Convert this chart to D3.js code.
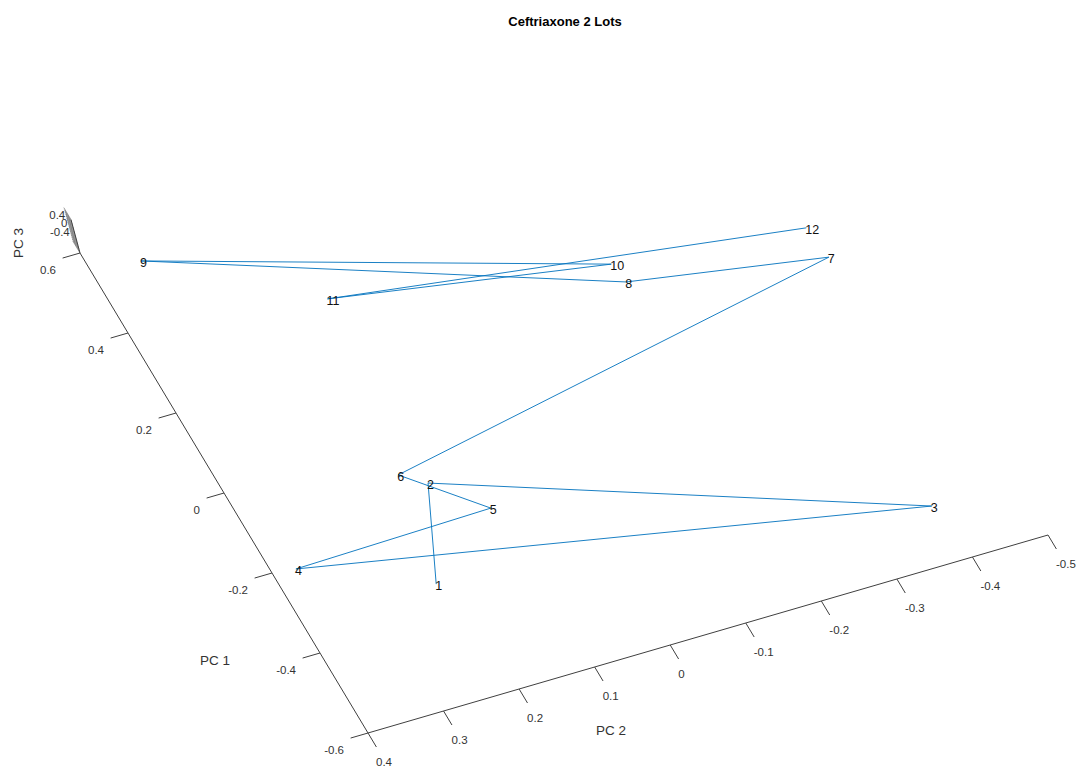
<!DOCTYPE html>
<html>
<head>
<meta charset="utf-8">
<script src="https://cdn.jsdelivr.net/npm/d3@7"></script>
<style>
  body { margin: 0; background: #fff; }
  svg { font-family: "Liberation Sans", Arial, sans-serif; }
</style>
</head>
<body>
<svg id="chart" width="1081" height="768"></svg>
<script>
// sample order and principal component scores
const labels = ['1', '2', '3', '4', '5', '6', '7', '8', '9', '10', '11', '12'];
const pc1 = [-0.347, -0.146, -0.519, -0.235, -0.243, -0.103, 0.072, 0.152, 0.519, 0.204, 0.325, 0.146];
const pc2 = [0.226, 0.170, -0.380, 0.375, 0.117, 0.197, -0.432, -0.188, 0.341, -0.184, 0.156, -0.426];
const pc3 = [-0.35, 0.05, 0.30, -0.20, 0.15, -0.10, 0.35, 0.20, -0.25, 0.10, -0.30, 0.40];

const pc1Ticks = [-0.6, -0.4, -0.2, 0, 0.2, 0.4, 0.6];
const pc2Ticks = [0.4, 0.3, 0.2, 0.1, 0, -0.1, -0.2, -0.3, -0.4, -0.5];
const pc3Ticks = [-0.4, 0, 0.4];

const svg = d3.select('#chart');
const axisColor = '#404040';
const lineColor = '#0072bd';

// oblique projection: each component adds its own screen offset
const origin = { x: 368, y: 733 };
const x1 = d3.scaleLinear().domain([-0.6, 0.6]).range([0, -288]);
const y1 = d3.scaleLinear().domain([-0.6, 0.6]).range([0, -480]);
const x2 = d3.scaleLinear().domain([0.4, -0.5]).range([0, 680]);
const y2 = d3.scaleLinear().domain([0.4, -0.5]).range([0, -198]);
const x3 = d3.scaleLinear().domain([-0.8, 0.8]).range([0, -9]);
const y3 = d3.scaleLinear().domain([-0.8, 0.8]).range([0, -33.4]);

function proj(a, b, c) {
    return [origin.x + x1(a) + x2(b) + x3(c), origin.y + y1(a) + y2(b) + y3(c)];
}

const fmt = d => d === 0 ? '0' : String(+d.toFixed(1));

// title
svg.append('text')
    .attr('x', 565).attr('y', 26)
    .attr('text-anchor', 'middle')
    .style('font-size', '13px')
    .style('font-weight', 'bold')
    .attr('fill', '#000')
    .text('Ceftriaxone 2 Lots');

const axes = svg.append('g').attr('stroke', axisColor).attr('fill', 'none');

// PC 1 axis (at PC2 = 0.4, floor)
axes.append('line')
    .attr('x1', proj(-0.6, 0.4, -0.8)[0]).attr('y1', proj(-0.6, 0.4, -0.8)[1])
    .attr('x2', proj(0.6, 0.4, -0.8)[0]).attr('y2', proj(0.6, 0.4, -0.8)[1]);
axes.selectAll('line.t1')
    .data(pc1Ticks)
    .enter().append('line')
    .attr('class', 't1')
    .attr('x1', d => proj(d, 0.4, -0.8)[0]).attr('y1', d => proj(d, 0.4, -0.8)[1])
    .attr('x2', d => proj(d, 0.423, -0.8)[0]).attr('y2', d => proj(d, 0.423, -0.8)[1]);
svg.selectAll('text.l1')
    .data(pc1Ticks)
    .enter().append('text')
    .attr('class', 'l1')
    .attr('x', d => proj(d, 0.4, -0.8)[0] - 24)
    .attr('y', d => proj(d, 0.4, -0.8)[1] + 21)
    .attr('text-anchor', 'end')
    .style('font-size', '11.5px')
    .attr('fill', '#333')
    .text(fmt);

// PC 2 axis (at PC1 = -0.6, floor)
axes.append('line')
    .attr('x1', proj(-0.6, 0.4, -0.8)[0]).attr('y1', proj(-0.6, 0.4, -0.8)[1])
    .attr('x2', proj(-0.6, -0.5, -0.8)[0]).attr('y2', proj(-0.6, -0.5, -0.8)[1]);
axes.selectAll('line.t2')
    .data(pc2Ticks)
    .enter().append('line')
    .attr('class', 't2')
    .attr('x1', d => proj(-0.6, d, -0.8)[0]).attr('y1', d => proj(-0.6, d, -0.8)[1])
    .attr('x2', d => proj(-0.635, d, -0.8)[0]).attr('y2', d => proj(-0.635, d, -0.8)[1]);
svg.selectAll('text.l2')
    .data(pc2Ticks)
    .enter().append('text')
    .attr('class', 'l2')
    .attr('x', d => proj(-0.6, d, -0.8)[0] + 8)
    .attr('y', d => proj(-0.6, d, -0.8)[1] + 33)
    .attr('text-anchor', 'start')
    .style('font-size', '11.5px')
    .attr('fill', '#333')
    .text(fmt);

// PC 3 axis, seen almost end-on
axes.append('line')
    .attr('x1', proj(0.6, 0.4, -0.8)[0]).attr('y1', proj(0.6, 0.4, -0.8)[1])
    .attr('x2', proj(0.6, 0.4, 0.8)[0]).attr('y2', proj(0.6, 0.4, 0.8)[1]);
axes.selectAll('line.t3')
    .data(d3.range(-8, 9).map(i => i / 10))
    .enter().append('line')
    .attr('class', 't3')
    .attr('stroke-width', 0.5)
    .attr('x1', d => proj(0.6, 0.4, d)[0]).attr('y1', d => proj(0.6, 0.4, d)[1])
    .attr('x2', d => proj(0.63, 0.4, d)[0]).attr('y2', d => proj(0.63, 0.4, d)[1]);
svg.selectAll('text.l3')
    .data(pc3Ticks)
    .enter().append('text')
    .attr('class', 'l3')
    .attr('x', d => proj(0.6, 0.4, d)[0] - 8)
    .attr('y', d => proj(0.6, 0.4, d)[1] - 9)
    .attr('text-anchor', 'end')
    .style('font-size', '11.5px')
    .attr('fill', '#333')
    .text(fmt);

// axis titles
svg.append('text')
    .attr('x', 215).attr('y', 665)
    .attr('text-anchor', 'middle')
    .style('font-size', '13.5px').attr('fill', '#333')
    .text('PC 1');
svg.append('text')
    .attr('x', 611).attr('y', 735)
    .attr('text-anchor', 'middle')
    .style('font-size', '13.5px').attr('fill', '#333')
    .text('PC 2');
svg.append('text')
    .attr('transform', 'translate(23,243) rotate(-90)')
    .attr('text-anchor', 'middle')
    .style('font-size', '13.5px').attr('fill', '#333')
    .text('PC 3');

// trajectory through the samples
const pts = labels.map((l, i) => ({ label: l, p: proj(pc1[i], pc2[i], pc3[i]) }));

svg.append('path')
    .datum(pts)
    .attr('fill', 'none')
    .attr('stroke', lineColor)
    .attr('stroke-width', 0.9)
    .attr('d', d3.line().x(d => d.p[0]).y(d => d.p[1]));

svg.selectAll('text.pt')
    .data(pts)
    .enter().append('text')
    .attr('class', 'pt')
    .attr('x', d => d.p[0] - 1)
    .attr('y', d => d.p[1] + 6)
    .style('font-size', '12.5px')
    .attr('fill', '#111')
    .text(d => d.label);
</script>
</body>
</html>
